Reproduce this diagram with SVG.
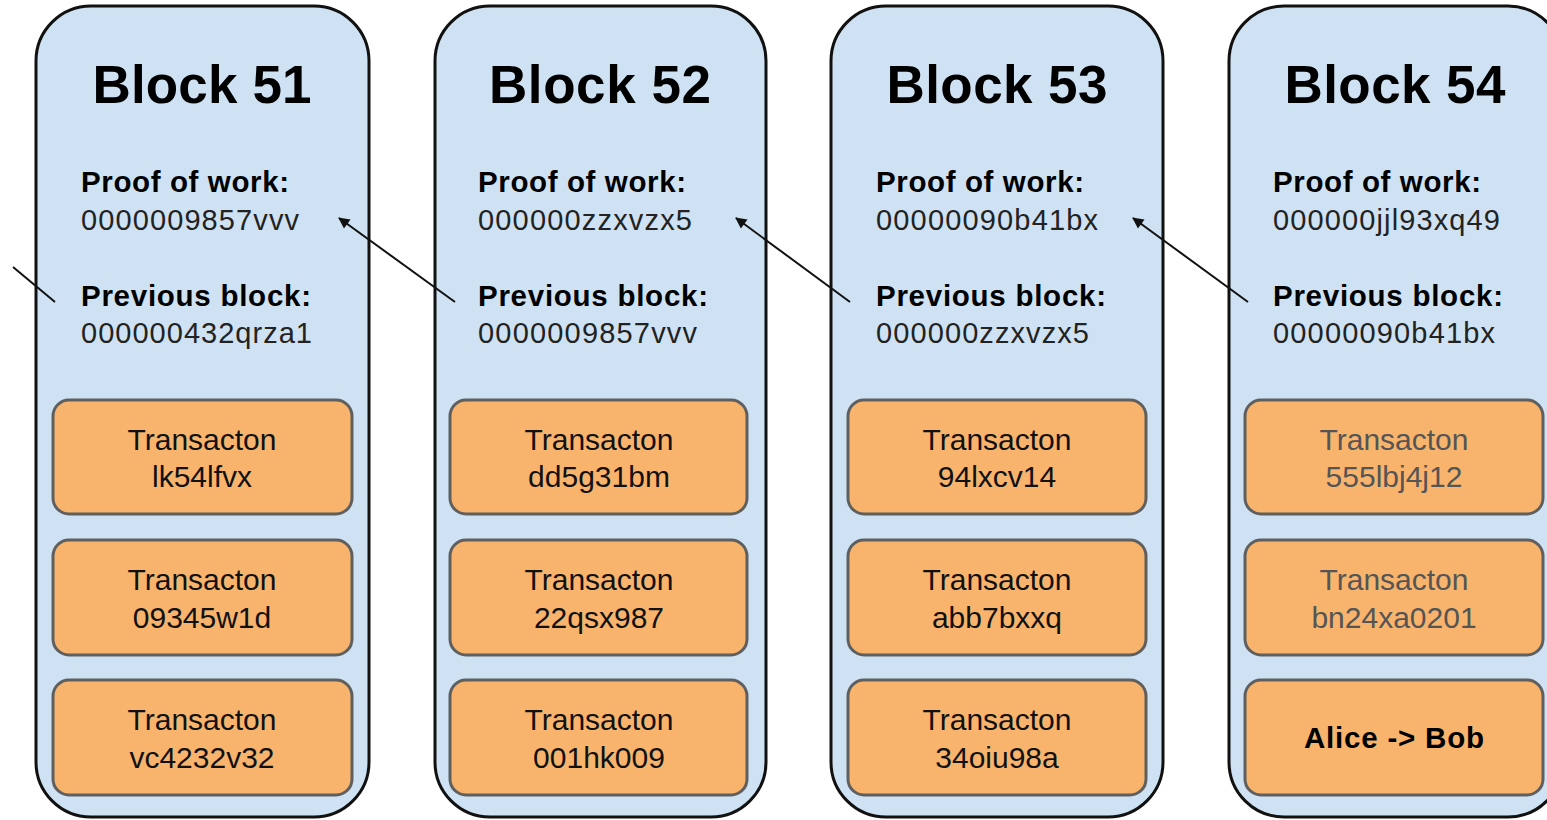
<svg xmlns="http://www.w3.org/2000/svg" width="1547" height="820" viewBox="0 0 1547 820">
<style>
.blk{fill:#cfe2f3;stroke:#111;stroke-width:3}
.tx{fill:#f8b46d;stroke:#5f5f5f;stroke-width:3}
.title{font-family:"Liberation Sans",Arial,sans-serif;font-weight:bold;font-size:53px;fill:#000;text-anchor:middle}
.lbl{font-family:"Liberation Sans",Arial,sans-serif;font-weight:bold;font-size:29.5px;fill:#000}
.val{font-family:"Liberation Sans",Arial,sans-serif;font-size:29px;fill:#222}
.tt{font-family:"Liberation Sans",Arial,sans-serif;font-size:30px;fill:#111;text-anchor:middle}
.tt.g{fill:#555}
.ab{font-family:"Liberation Sans",Arial,sans-serif;font-weight:bold;font-size:29.5px;fill:#000;text-anchor:middle}
.conn{stroke:#111;stroke-width:2;fill:none}
</style>
<defs>
<marker id="ah" viewBox="0 0 10 10" refX="9" refY="5" markerWidth="7" markerHeight="7" markerUnits="userSpaceOnUse" orient="auto" overflow="visible">
<path d="M0,0 L10,5 L0,10 z" fill="#111" transform="scale(1.6) translate(-3.5,-1.9)"/>
</marker>
</defs>
<rect width="1547" height="820" fill="#fff"/>

<g id="block51">
<rect class="blk" x="36" y="6" width="333" height="811" rx="55" ry="55"/>
<text class="title" x="202" y="103" textLength="219">Block 51</text>
<text class="lbl" x="81" y="192" textLength="208">Proof of work:</text>
<text class="val" x="81" y="230" textLength="218">0000009857vvv</text>
<text class="lbl" x="81" y="306" textLength="230">Previous block:</text>
<text class="val" x="81" y="343" textLength="231">000000432qrza1</text>
<g id="tx51a"><rect class="tx" x="53" y="400" width="299" height="114" rx="16"/><text class="tt" x="202" y="450">Transacton</text><text class="tt" x="202" y="487">lk54lfvx</text></g>
<g id="tx51b"><rect class="tx" x="53" y="540" width="299" height="115" rx="16"/><text class="tt" x="202" y="590">Transacton</text><text class="tt" x="202" y="628">09345w1d</text></g>
<g id="tx51c"><rect class="tx" x="53" y="680" width="299" height="115" rx="16"/><text class="tt" x="202" y="730">Transacton</text><text class="tt" x="202" y="768">vc4232v32</text></g>
</g>

<g id="block52">
<rect class="blk" x="435" y="6" width="331" height="811" rx="55" ry="55"/>
<text class="title" x="600" y="103" textLength="222">Block 52</text>
<text class="lbl" x="478" y="192" textLength="208">Proof of work:</text>
<text class="val" x="478" y="230" textLength="214">000000zzxvzx5</text>
<text class="lbl" x="478" y="306" textLength="230">Previous block:</text>
<text class="val" x="478" y="343" textLength="219">0000009857vvv</text>
<g id="tx52a"><rect class="tx" x="450" y="400" width="297" height="114" rx="16"/><text class="tt" x="599" y="450">Transacton</text><text class="tt" x="599" y="487">dd5g31bm</text></g>
<g id="tx52b"><rect class="tx" x="450" y="540" width="297" height="115" rx="16"/><text class="tt" x="599" y="590">Transacton</text><text class="tt" x="599" y="628">22qsx987</text></g>
<g id="tx52c"><rect class="tx" x="450" y="680" width="297" height="115" rx="16"/><text class="tt" x="599" y="730">Transacton</text><text class="tt" x="599" y="768">001hk009</text></g>
</g>

<g id="block53">
<rect class="blk" x="831" y="6" width="332" height="811" rx="55" ry="55"/>
<text class="title" x="997" y="103" textLength="221">Block 53</text>
<text class="lbl" x="876" y="192" textLength="208">Proof of work:</text>
<text class="val" x="876" y="230" textLength="222">00000090b41bx</text>
<text class="lbl" x="876" y="306" textLength="230">Previous block:</text>
<text class="val" x="876" y="343" textLength="213">000000zzxvzx5</text>
<g id="tx53a"><rect class="tx" x="848" y="400" width="298" height="114" rx="16"/><text class="tt" x="997" y="450">Transacton</text><text class="tt" x="997" y="487">94lxcv14</text></g>
<g id="tx53b"><rect class="tx" x="848" y="540" width="298" height="115" rx="16"/><text class="tt" x="997" y="590">Transacton</text><text class="tt" x="997" y="628">abb7bxxq</text></g>
<g id="tx53c"><rect class="tx" x="848" y="680" width="298" height="115" rx="16"/><text class="tt" x="997" y="730">Transacton</text><text class="tt" x="997" y="768">34oiu98a</text></g>
</g>

<g id="block54">
<rect class="blk" x="1229" y="6" width="334" height="811" rx="55" ry="55"/>
<text class="title" x="1395" y="103" textLength="221">Block 54</text>
<text class="lbl" x="1273" y="192" textLength="208">Proof of work:</text>
<text class="val" x="1273" y="230" textLength="227">000000jjl93xq49</text>
<text class="lbl" x="1273" y="306" textLength="230">Previous block:</text>
<text class="val" x="1273" y="343" textLength="222">00000090b41bx</text>
<g id="tx54a"><rect class="tx" x="1245" y="400" width="298" height="114" rx="16"/><text class="tt g" x="1394" y="450">Transacton</text><text class="tt g" x="1394" y="487">555lbj4j12</text></g>
<g id="tx54b"><rect class="tx" x="1245" y="540" width="298" height="115" rx="16"/><text class="tt g" x="1394" y="590">Transacton</text><text class="tt g" x="1394" y="628">bn24xa0201</text></g>
<g id="tx54c"><rect class="tx" x="1245" y="680" width="298" height="115" rx="16"/><text class="ab" x="1394" y="748" textLength="180">Alice -&gt; Bob</text></g>
</g>

<g id="connectors">
<line class="conn" x1="55" y1="302" x2="13" y2="267"/>
<line class="conn" x1="455" y1="302" x2="339" y2="218" marker-end="url(#ah)"/>
<line class="conn" x1="850" y1="302" x2="736" y2="218" marker-end="url(#ah)"/>
<line class="conn" x1="1248" y1="302" x2="1133" y2="218" marker-end="url(#ah)"/>
</g>
</svg>
